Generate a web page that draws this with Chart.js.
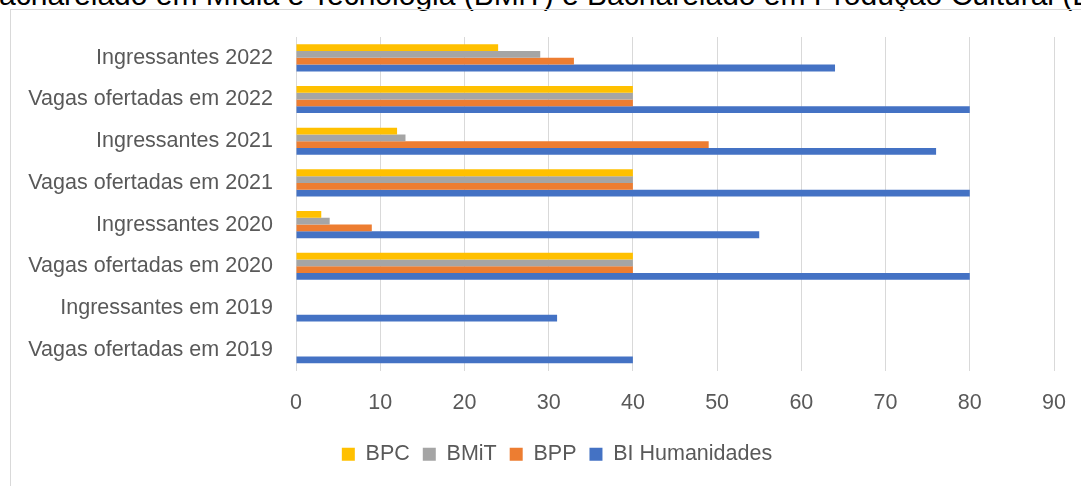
<!DOCTYPE html>
<html>
<head>
<meta charset="utf-8">
<script src="https://cdn.jsdelivr.net/npm/chart.js@4/dist/chart.umd.min.js"></script>
<style>
    html, body { margin: 0; padding: 0; background: #fff; }
    body { width: 1081px; height: 486px; overflow: hidden; position: relative; }
    #title {
        position: absolute; left: -21px; top: -20px; white-space: nowrap;
        font-family: "Liberation Sans", Arial, sans-serif; font-size: 30px; line-height: 30px; color: #000;
    }
    #frame {
        position: absolute; left: 10px; top: 9px; width: 1200px; height: 600px;
        border: 1px solid #d9d9d9;
    }
    #chart { position: absolute; left: 0; top: 0; }
</style>
</head>
<body>
<div id="title">Bacharelado em Mídia e Tecnologia (BMiT) e Bacharelado em Produção Cultural (BPC)</div>
<div id="frame"></div>
<canvas id="chart" width="1081" height="486"></canvas>
<script>
var categories = [
    'Ingressantes 2022',
    'Vagas ofertadas em 2022',
    'Ingressantes 2021',
    'Vagas ofertadas em 2021',
    'Ingressantes 2020',
    'Vagas ofertadas em 2020',
    'Ingressantes em 2019',
    'Vagas ofertadas em 2019'
]
var bpc = [24, 40, 12, 40, 3, 40, 0, 0]
var bmit = [29, 40, 13, 40, 4, 40, 0, 0]
var bpp = [33, 40, 49, 40, 9, 40, 0, 0]
var biHumanidades = [64, 80, 76, 80, 55, 80, 31, 40]
var xTicks = [0, 10, 20, 30, 40, 50, 60, 70, 80, 90]

var font = { family: '"Liberation Sans", Arial, sans-serif', size: 21.5 }

function bar(label, data, color) {
    return {
        label: label,
        data: data,
        backgroundColor: color,
        borderWidth: 0,
        categoryPercentage: 0.65,
        barPercentage: 1
    }
}

// legend in the original sits a bit right of centre
var shiftLegend = {
    id: 'shiftLegend',
    afterLayout: function(chart) {
        chart.legend.left += 30
        chart.legend.right += 30
        chart.legend.top -= 2
        chart.legend.bottom -= 2
    }
}

var chart = new Chart(document.getElementById('chart'), {
    type: 'bar',
    data: {
        labels: categories,
        datasets: [
            bar('BPC', bpc, '#ffc000'),
            bar('BMiT', bmit, '#a5a5a5'),
            bar('BPP', bpp, '#ed7d31'),
            bar('BI Humanidades', biHumanidades, '#4472c4')
        ]
    },
    options: {
        indexAxis: 'y',
        responsive: false,
        animation: false,
        layout: { padding: { top: 37, right: 27, left: 0, bottom: 9 } },
        scales: {
            x: {
                min: xTicks[0],
                max: xTicks[xTicks.length - 1],
                afterBuildTicks: function(scale) {
                    scale.ticks = xTicks.map(function(v) { return { value: v } })
                },
                afterFit: function(scale) { scale.height = 62 },
                // invisible tick marks push the labels down without widening the right padding
                grid: { color: '#d9d9d9', lineWidth: 1, drawTicks: true, tickLength: 17, tickColor: 'rgba(0,0,0,0)' },
                border: { display: false },
                ticks: { color: '#595959', font: font, padding: 3 }
            },
            y: {
                afterFit: function(scale) { scale.width = 296 },
                grid: { display: false, drawTicks: false },
                border: { display: false },
                ticks: { color: '#595959', font: font, padding: 23 }
            }
        },
        plugins: {
            legend: {
                position: 'bottom',
                labels: {
                    color: '#595959',
                    font: font,
                    boxWidth: 13,
                    boxHeight: 13,
                    padding: 13
                }
            },
            tooltip: { enabled: false }
        }
    },
    plugins: [shiftLegend]
})
</script>
</body>
</html>
